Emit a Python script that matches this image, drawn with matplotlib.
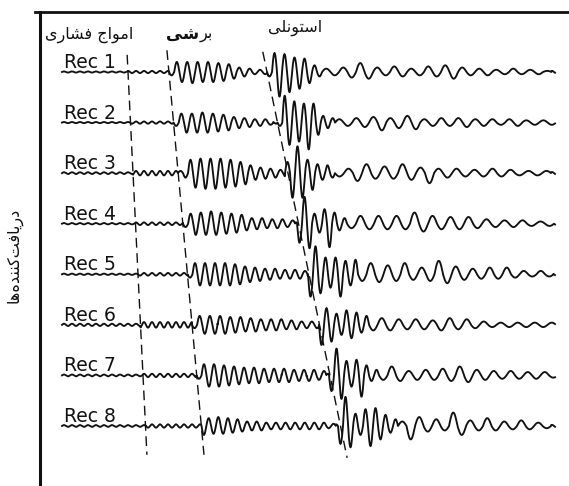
import numpy as np
import matplotlib
matplotlib.use("Agg")
import matplotlib.pyplot as plt
from matplotlib.lines import Line2D

# ---------------- data (times in ms, amplitudes in relative units) ----------------
receivers = ["Rec 1", "Rec 2", "Rec 3", "Rec 4", "Rec 5", "Rec 6", "Rec 7", "Rec 8"]

# arrival times along the dashed move-out lines
p_arrival = [1.32, 1.37, 1.42, 1.47, 1.52, 1.57, 1.62, 1.67]
s_arrival = [2.14, 2.23, 2.32, 2.42, 2.51, 2.60, 2.69, 2.79]
st_arrival = [4.10, 4.31, 4.52, 4.73, 4.94, 5.15, 5.36, 5.57]

# background ripple before P and between P and S
noise_pre_p = [0.5, 0.5, 0.8, 0.6, 0.6, 1.0, 0.8, 0.8]
noise_p_s = [1.0, 1.0, 2.0, 1.2, 1.2, 2.5, 1.5, 1.5]

# shear-wave packet: half period and half-cycle amplitudes
s_half_period = [0.104, 0.105, 0.100, 0.102, 0.100, 0.102, 0.100, 0.096]
s_amps = [
    [-3, 9, -9, 9, -10, 9, -9, 9, -9, 8, -8, 7, -6, 4, -4, 3, -2, 2, -2],
    [-3, 8, -9, 8, -9, 9, -9, 8, -8, 7, -7, 5, -5, 4, -4, 3, -3, 3, -2],
    [2, -4, 12, -13, 13, -14, 13, -14, 13, -13, 12, -12, 10, -10, 7, -6, 5, -5, 4, -4, 3, -3],
    [-3, 9, -10, 10, -10, 11, -10, 10, -9, 9, -8, 8, -6, 5, -5, 5, -4, 4, -4, 4, -3, 3],
    [-3, 10, -10, 10, -10, 10, -10, 10, -10, 9, -9, 7, -7, 6, -6, 5, -5, 5, -4, 4, -4, 4, -4, 3],
    [-3, 8, -8, 8, -8, 8, -8, 7, -7, 7, -6, 6, -6, 5, -5, 5, -5, 5, -4, 4, -4, 3, -3, 3, -3],
    [-3, 10, -10, 10, -10, 9, -9, 8, -8, 7, -7, 7, -7, 6, -6, 6, -6, 6, -6, 5, -5, 5, -5, 5, -4, 4],
    [-8, 7, -7, 8, -7, 7, -6, 6, -5, 4, -4, 4, -4, 3, -3, 3, -3, 3, -3, 3, -3, 3, -3, 3, -3, 3, -2, 2],
]

# Stoneley packet: onset, half period, half-cycle amplitudes
st_onset = [4.10, 4.31, 4.46, 4.70, 4.92, 5.14, 5.34, 5.52]
st_half_period = [0.100, 0.096, 0.100, 0.100, 0.100, 0.100, 0.100, 0.100]
st_amps = [
    [-4, 17, -22, 16, -18, 13, -15, 12, -10, 6, -4],
    [-3, 24, -20, 19, -17, 17, -24, 17, -11, 6, -5, 4],
    [10, -22, 24, -22, 12, -15, 8, -6, 7, -4],
    [-17, 24, -22, 9, -8, 13, -21, 10, -6, 5],
    [-20, 25, -17, 15, -12, 15, -20, 12, -10, 13],
    [-18, 15, -15, 10, -9, 13, -12, 11, -7, 8],
    [-14, 24, -21, 13, -10, 14, -19, 9, -5, 5],
    [-16, 26, -19, 11, -8, 15, -18, 16, -12, 10, -6, 6],
]

# coda following the Stoneley packet
coda_half_period = [0.17, 0.17, 0.18, 0.18, 0.17, 0.17, 0.17, 0.17]
coda_amps = [
    [3, -3, 4, -5, 8, -6, 4, -3, 5, -4, 3, -3, 5, -4, 6, -6, 4, -3, 3, -3, 2, -2, 3, -2, 2, -2, 1],
    [3, -3, 4, -4, 5, -7, 4, -5, 6, -6, 3, -3, 4, -3, 4, -4, 3, -3, 3, -2, 3, -3, 2, -2, 2, -2],
    [-3, 4, -7, 8, -5, 6, -5, 8, -6, 5, -9, 4, -4, 4, -3, 3, -3, 4, -3, 3, -2, 2, -2, 2],
    [-4, 7, -5, 7, -5, 7, -5, 10, -7, 7, -5, 6, -5, 6, -4, 4, -3, 3, -3, 3, -2, 2, -2],
    [-6, 10, -7, 8, -6, 10, -5, 6, -6, 12, -8, 7, -5, 5, -4, 6, -4, 6, -3, 3, -2, 3, -2],
    [-5, 6, -5, 5, -4, 5, -4, 4, -5, 6, -4, 5, -3, 3, -2, 2, -2, 2, -2, 2, -2, 2],
    [-4, 8, -5, 4, -4, 5, -4, 6, -5, 8, -6, 5, -4, 4, -3, 4, -3, 3, -3, 3, -2],
    [4, -12, 8, -5, 6, -4, 12, -8, 5, -4, 7, -4, 4, -3, 5, -3, 3, -2],
]

t_end = 9.86

# Persian labels (visual order, presentation forms)
label_p = "\uFEEF\uFEAD\uFE8E\uFEB8\uFED3 \uFE9D\uFE8D\uFEEE\uFEE3\uFE8D"        # امواج فشاری
label_s_bold = "\uFEF0\uFEB7"                                                    # شی
label_s_reg = "\uFEAE\uFE91"                                                     # بر
label_st = "\uFEF0\uFEE0\uFEE7\uFEEE\uFE98\uFEB3\uFE8D"                           # استونلی
label_rec = "\uFE8E\uFEEB\uFEE9\uFEAA\uFEE8\uFEE8\uFEDB\uFE96\uFED3\uFE8E\uFEF3\uFEAD\uFEA9"  # دریافت‌کننده‌ها

# ---------------- figure ----------------
W, H = 569, 486
fig = plt.figure(figsize=(W / 100, H / 100), dpi=100)
fig.patch.set_facecolor("white")
ax = fig.add_axes([0, 0, 1, 1])
px_per_ms = 50.0
x0_px = 62.0
rec_spacing_px = 50.57
y0_px = 72.0
ax.set_xlim(-x0_px / px_per_ms, (W - x0_px) / px_per_ms)
ax.set_ylim(1 + (H - y0_px) / rec_spacing_px, 1 - y0_px / rec_spacing_px)
ax.axis("off")
amp_scale = 1.12 / rec_spacing_px
ink = "#111111"

dt = 0.002
t = np.arange(0.0, t_end + dt / 2, dt)
noise_hp = 0.08


def put(y, start, hp, amps):
    for k, a in enumerate(amps):
        t0 = start + k * hp
        m = (t >= t0) & (t < t0 + hp)
        y[m] = a * np.sin(np.pi * (t[m] - t0) / hp)
    return start + len(amps) * hp


for i, name in enumerate(receivers):
    r = i + 1
    bg = np.where(t < p_arrival[i], noise_pre_p[i],
                  np.where(t < st_onset[i], noise_p_s[i], 1.0))
    y = bg * np.sin(np.pi * t / noise_hp)
    put(y, s_arrival[i], s_half_period[i], s_amps[i])
    end_st = put(y, st_onset[i], st_half_period[i], st_amps[i])
    put(y, end_st, coda_half_period[i], coda_amps[i])
    ax.plot(t, r - y * amp_scale, color=ink, lw=1.35, solid_joinstyle="round")
    ax.text(0.04, r - 4.0 / rec_spacing_px, name, fontsize=13.5, family="DejaVu Sans",
            color=ink, ha="left", va="baseline")

# dashed move-out lines
rr = np.arange(1, len(receivers) + 1)
for arr, (ra, rb) in [(p_arrival, (0.66, 8.57)), (s_arrival, (0.57, 8.57)),
                      (st_arrival, (0.60, 8.63))]:
    k, b = np.polyfit(rr, arr, 1)
    ax.plot([k * ra + b, k * rb + b], [ra, rb], color=ink, lw=1.0,
            linestyle=(0, (7, 4)))

# frame lines
fig.add_artist(Line2D([40 / W, 40 / W], [1 - 12 / H, 0], color=ink, lw=2.2))
fig.add_artist(Line2D([35 / W, 1.0], [1 - 12 / H, 1 - 12 / H], color=ink, lw=2.0))

# Persian labels
fig.text(45 / W, 1 - 35 / H, label_p, fontsize=11.5, family="DejaVu Sans",
         ha="left", va="center", color=ink)
fig.text(199 / W, 1 - 34 / H, label_s_bold, fontsize=12, family="DejaVu Sans",
         fontweight="bold", ha="right", va="center", color=ink)
fig.text(200 / W, 1 - 34 / H, label_s_reg, fontsize=11.5, family="DejaVu Sans",
         ha="left", va="center", color=ink)
fig.text(268 / W, 1 - 28 / H, label_st, fontsize=11.5, family="DejaVu Sans",
         ha="left", va="center", color=ink)
fig.text(14 / W, 1 - 255 / H, label_rec, fontsize=11.5, family="DejaVu Sans",
         rotation=90, ha="center", va="center", color=ink)

fig.savefig("out.png", dpi=100, facecolor="white")
